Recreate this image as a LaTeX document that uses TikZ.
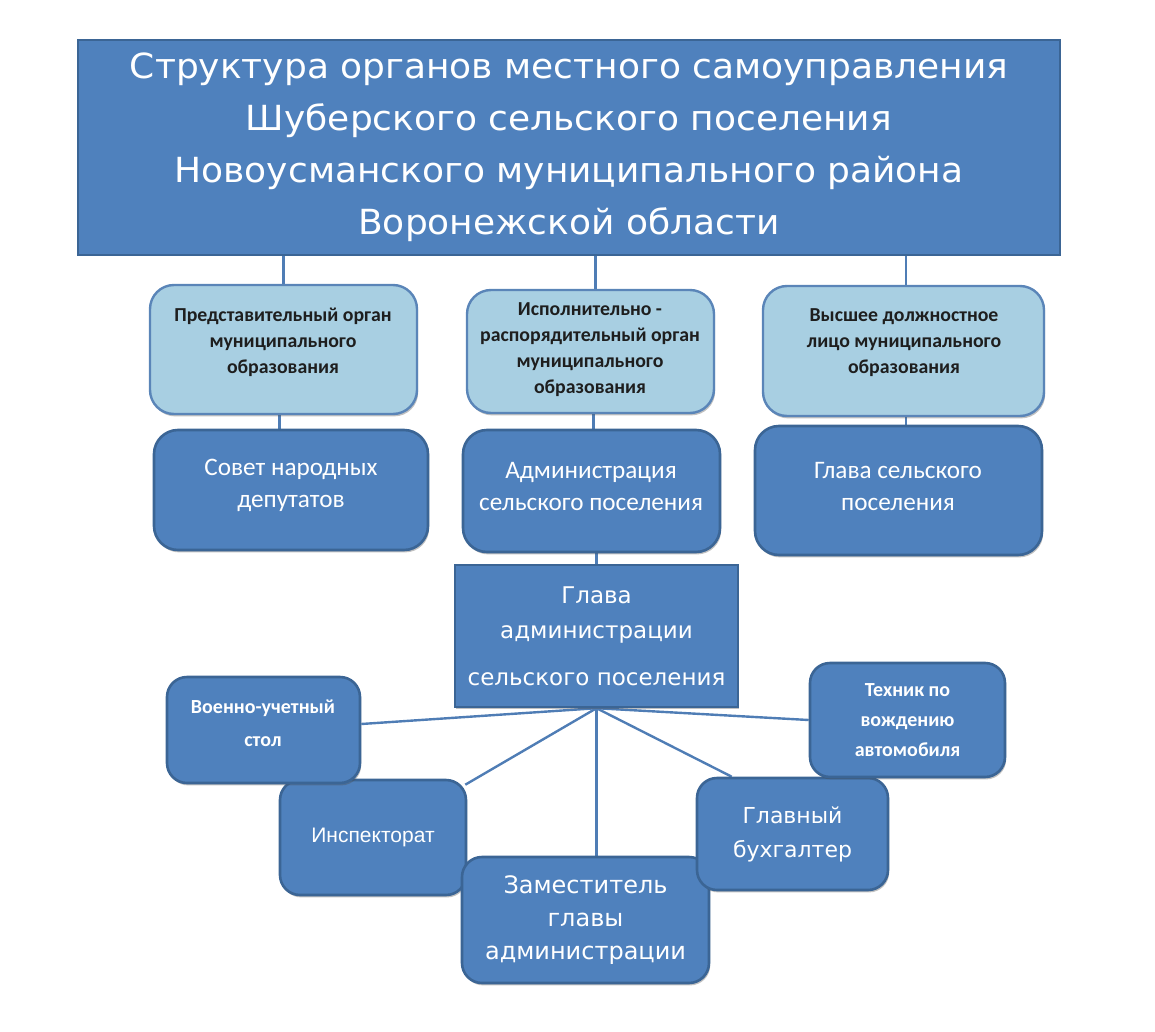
\documentclass[tikz,border=0pt]{standalone}
\usepackage{fontspec}
\setmainfont{Carlito}
\newfontfamily\gothic{DejaVu Sans}
\newfontfamily\gothicwide[FakeStretch=1.04]{DejaVu Sans}
\newfontfamily\arialf{Liberation Sans}
\usetikzlibrary{backgrounds,shadows,calc}
\definecolor{boxblue}{HTML}{4F81BD}
\definecolor{boxedge}{HTML}{3B6595}
\definecolor{lightfill}{HTML}{A8CFE2}
\definecolor{lightedge}{HTML}{5A85B8}
\definecolor{linkc}{HTML}{4F7DB5}
\definecolor{inktext}{HTML}{1E1E1E}
\begin{document}
\begin{tikzpicture}[x=0.5pt,y=-0.5pt,
  shadowed/.style={drop shadow={shadow xshift=0.6pt,shadow yshift=-1.2pt,opacity=0.35,fill=black!70}},
  titlebox/.style={draw=boxedge,line width=1.2pt,fill=boxblue,text=white,align=center,
    font=\gothicwide\fontsize{17.3}{26}\selectfont,inner sep=0pt},
  lightbox/.style={draw=lightedge,line width=1.2pt,fill=lightfill,rounded corners=12pt,inner sep=0pt,shadowed},
  lighttext/.style={text=inktext,align=center,font=\bfseries\fontsize{9.9}{13}\selectfont},
  darkbox/.style={draw=boxedge,line width=1.3pt,fill=boxblue,rounded corners=12pt,inner sep=0pt,shadowed},
  smallbox/.style={draw=boxedge,line width=1.3pt,fill=boxblue,rounded corners=10pt,inner sep=0pt,shadowed,text=white,align=center},
  headtext/.style={text=white,align=center,font=\fontsize{12.6}{16}\selectfont},
  smalltext/.style={text=white,align=center,font=\bfseries\fontsize{10}{15}\selectfont},
  link/.style={draw=linkc,line width=1.2pt}
]
\useasboundingbox (0,0) rectangle (1155,1032);

% title
\node[titlebox,minimum width=491pt,minimum height=107.5pt] (title) at (569,147.5)
  {Структура органов местного самоуправления\\Шуберского сельского поселения\\Новоусманского муниципального района\\Воронежской области};

% light boxes
\node[lightbox,minimum width=133.5pt,minimum height=64.5pt] (L1) at (283.5,349.5) {};
\node[lighttext] (L1t) at (283,342) {Представительный орган\\муниципального\\образования};
\node[lightbox,minimum width=123.5pt,minimum height=61.5pt] (L2) at (590.5,351.5) {};
\node[lighttext] (L2t) at (590,350) {Исполнительно -\\распорядительный орган\\муниципального\\образования};
\node[lightbox,minimum width=140.5pt,minimum height=65pt] (L3) at (903.5,351) {};
\node[lighttext] (L3t) at (904,343) {Высшее должностное\\лицо муниципального\\образования};

% dark boxes
\node[darkbox,minimum width=137pt,minimum height=60pt] (D1) at (291,490) {};
\node[headtext] (D1t) at (291,485) {Совет народных\\депутатов};
\node[darkbox,minimum width=128.5pt,minimum height=61pt] (D2) at (591.5,491) {};
\node[headtext] (D2t) at (591,486) {Администрация\\сельского поселения};
\node[darkbox,minimum width=143.5pt,minimum height=64.5pt] (D3) at (898.5,490.5) {};
\node[headtext] (D3t) at (898,486) {Глава сельского\\поселения};

% head of administration
\node[draw=boxedge,line width=1.2pt,fill=boxblue,inner sep=0pt,shadowed,
      minimum width=141.5pt,minimum height=71pt,text=white,align=center,
      font=\gothic\fontsize{11.5}{17.5}\selectfont] (G) at (596.5,636)
  {Глава\\администрации\\[6pt]сельского поселения};
\coordinate (hub) at (G.south);

% lower boxes
\node[smallbox,minimum width=93pt,minimum height=57.5pt,font=\arialf\fontsize{10.5}{14}\selectfont] (I) at (373,837.5) {Инспекторат};
\node[smallbox,minimum width=96.5pt,minimum height=53pt] (V) at (263.5,730) {};
\node[smalltext,font=\bfseries\fontsize{10}{16.5}\selectfont] (Vt) at (263,723) {Военно-учетный\\стол};
\node[smallbox,minimum width=123.5pt,minimum height=63pt,font=\gothic\fontsize{12}{16.5}\selectfont] (Z) at (585.5,920) {Заместитель\\главы\\администрации};
\node[smallbox,minimum width=95.5pt,minimum height=56pt,font=\gothic\fontsize{11}{17}\selectfont] (B) at (792.5,834) {Главный\\бухгалтер};
\node[smallbox,minimum width=97.5pt,minimum height=57pt,font=\bfseries\fontsize{10}{15}\selectfont] (T) at (907.5,720) {Техник по\\вождению\\автомобиля};

% connectors
\begin{scope}[on background layer]
  \draw[link] (L1.north |- title.south) -- (L1.north);
  \draw[link] ([xshift=2.5pt]L2.north |- title.south) -- ([xshift=2.5pt]L2.north);
  \draw[link] ([xshift=1.2pt]L3.north |- title.south) -- ([xshift=1.2pt]L3.north);
  \draw[link] ([xshift=-2pt]L1.south) -- ([xshift=-2pt]L1.south |- D1.north);
  \draw[link] ([xshift=1.5pt]L2.south) -- ([xshift=1.5pt]L2.south |- D2.north);
  \draw[link] ([xshift=1.2pt]L3.south) -- ([xshift=1.2pt]L3.south |- D3.north);
  \draw[link] (G.north |- D2.south) -- (G.north);
  \draw[link] (hub) -- ([yshift=3pt]V.east);
  \draw[link] (hub) -- ([xshift=-1pt,yshift=-3pt]I.north east);
  \draw[link] (hub) -- (hub |- Z.north);
  \draw[link] (hub) -- ([xshift=18pt]B.north west);
  \draw[link] (hub) -- (T.west);
\end{scope}
\end{tikzpicture}
\end{document}
